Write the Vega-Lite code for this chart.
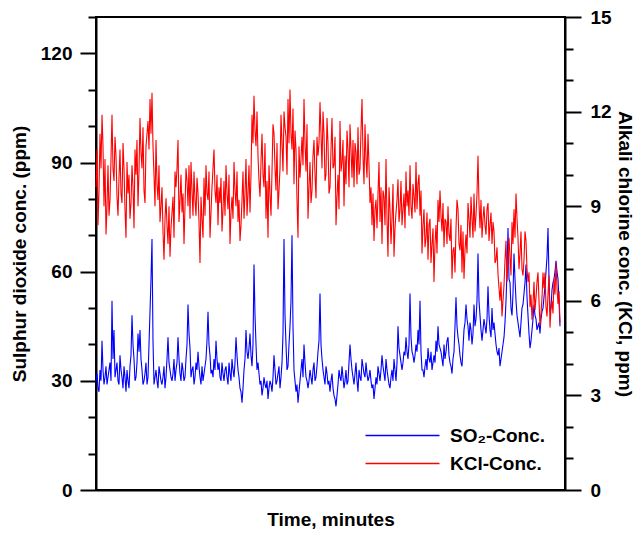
{
"$schema": "https://vega.github.io/schema/vega-lite/v6.json",
"autosize": "none",
"width": 469,
"height": 473,
"padding": {"left": 96, "top": 17, "right": 73, "bottom": 45},
"config": {
  "view": {"stroke": "black", "strokeWidth": 2},
  "font": "Liberation Sans",
  "axis": {"labelFont": "Liberation Sans", "labelFontWeight": "bold", "labelFontSize": 19, "labelColor": "black", "titleFont": "Liberation Sans", "titleFontWeight": "bold", "titleFontSize": 19, "titleColor": "black", "domainColor": "black", "domainWidth": 2, "tickColor": "black", "tickWidth": 2, "grid": false, "labelFlush": false, "labelOverlap": false, "labelBound": false}
},
"data": {"values": [
{"t":0,"s":30,"k":9.6},{"t":1,"s":32,"k":10.8},{"t":2,"s":28,"k":8.4},{"t":3,"s":27,"k":9.5},{"t":4,"s":33,"k":11.3},{"t":5,"s":30,"k":10.2},{"t":6,"s":41,"k":11.9},{"t":7,"s":33,"k":10.9},{"t":8,"s":29,"k":9.0},{"t":9,"s":31,"k":10.5},
{"t":10,"s":34,"k":8.1},{"t":11,"s":29,"k":9.0},{"t":12,"s":31,"k":10.3},{"t":13,"s":33,"k":8.7},{"t":14,"s":35,"k":9.2},{"t":15,"s":30,"k":10.5},{"t":16,"s":52,"k":11.9},{"t":17,"s":36,"k":10.2},{"t":18,"s":44,"k":9.8},{"t":19,"s":31,"k":11.2},
{"t":20,"s":33,"k":10.6},{"t":21,"s":35,"k":9.3},{"t":22,"s":30,"k":8.7},{"t":23,"s":29,"k":9.9},{"t":24,"s":37,"k":10.8},{"t":25,"s":33,"k":9.4},{"t":26,"s":31,"k":9.1},{"t":27,"s":28,"k":11.0},{"t":28,"s":34,"k":10.2},{"t":29,"s":31,"k":8.9},
{"t":30,"s":27,"k":8.0},{"t":31,"s":33,"k":10.4},{"t":32,"s":30,"k":9.4},{"t":33,"s":28,"k":10.0},{"t":34,"s":34,"k":8.6},{"t":35,"s":37,"k":9.1},{"t":36,"s":48,"k":10.3},{"t":37,"s":40,"k":9.6},{"t":38,"s":36,"k":8.3},{"t":39,"s":30,"k":10.8},
{"t":40,"s":31,"k":10.0},{"t":41,"s":35,"k":11.1},{"t":42,"s":43,"k":9.0},{"t":43,"s":38,"k":10.1},{"t":44,"s":44,"k":11.8},{"t":45,"s":36,"k":10.7},{"t":46,"s":33,"k":10.2},{"t":47,"s":29,"k":11.5},{"t":48,"s":30,"k":9.5},{"t":49,"s":32,"k":9.1},
{"t":50,"s":35,"k":10.9},{"t":51,"s":29,"k":11.3},{"t":52,"s":31,"k":11.7},{"t":53,"s":40,"k":10.8},{"t":54,"s":49,"k":12.4},{"t":55,"s":58,"k":11.3},{"t":56,"s":69,"k":12.6},{"t":57,"s":41,"k":10.9},{"t":58,"s":29,"k":10.0},{"t":59,"s":31,"k":9.0},
{"t":60,"s":33,"k":11.1},{"t":61,"s":30,"k":9.7},{"t":62,"s":28,"k":9.2},{"t":63,"s":34,"k":10.3},{"t":64,"s":32,"k":8.5},{"t":65,"s":30,"k":9.0},{"t":66,"s":29,"k":9.6},{"t":67,"s":31,"k":8.2},{"t":68,"s":34,"k":7.3},{"t":69,"s":28,"k":8.6},
{"t":70,"s":31,"k":9.25},{"t":71,"s":36,"k":8.4},{"t":72,"s":42,"k":7.8},{"t":73,"s":35,"k":9.0},{"t":74,"s":33,"k":7.4},{"t":75,"s":31,"k":8.3},{"t":76,"s":30,"k":8.8},{"t":77,"s":32,"k":9.3},{"t":78,"s":36,"k":8.0},{"t":79,"s":30,"k":10.1},
{"t":80,"s":33,"k":9.6},{"t":81,"s":35,"k":10.2},{"t":82,"s":42,"k":11.1},{"t":83,"s":36,"k":8.5},{"t":84,"s":32,"k":9.2},{"t":85,"s":30,"k":10.0},{"t":86,"s":35,"k":8.8},{"t":87,"s":33,"k":9.4},{"t":88,"s":30,"k":7.8},{"t":89,"s":31,"k":9.0},
{"t":90,"s":36,"k":10.2},{"t":91,"s":40,"k":9.8},{"t":92,"s":51,"k":9.0},{"t":93,"s":43,"k":10.3},{"t":94,"s":39,"k":8.6},{"t":95,"s":31,"k":10.4},{"t":96,"s":33,"k":9.5},{"t":97,"s":34,"k":8.7},{"t":98,"s":29,"k":10.1},{"t":99,"s":31,"k":9.2},
{"t":100,"s":35,"k":8.7},{"t":101,"s":33,"k":9.9},{"t":102,"s":38,"k":9.4},{"t":103,"s":34,"k":8.5},{"t":104,"s":31,"k":7.2},{"t":105,"s":29,"k":9.3},{"t":106,"s":34,"k":8.6},{"t":107,"s":30,"k":8.0},{"t":108,"s":32,"k":9.9},{"t":109,"s":34,"k":8.7},
{"t":110,"s":36,"k":10.3},{"t":111,"s":41,"k":9.4},{"t":112,"s":49,"k":9.2},{"t":113,"s":40,"k":10.1},{"t":114,"s":37,"k":8.0},{"t":115,"s":32,"k":8.8},{"t":116,"s":33,"k":9.6},{"t":117,"s":31,"k":10.2},{"t":118,"s":36,"k":10.8},{"t":119,"s":33,"k":9.5},
{"t":120,"s":41,"k":9.1},{"t":121,"s":36,"k":10.0},{"t":122,"s":33,"k":8.4},{"t":123,"s":35,"k":9.6},{"t":124,"s":31,"k":9.1},{"t":125,"s":30,"k":9.9},{"t":126,"s":35,"k":8.2},{"t":127,"s":32,"k":8.9},{"t":128,"s":30,"k":9.8},{"t":129,"s":33,"k":8.7},
{"t":130,"s":34,"k":10.3},{"t":131,"s":31,"k":9.4},{"t":132,"s":29,"k":8.9},{"t":133,"s":35,"k":10.0},{"t":134,"s":32,"k":7.8},{"t":135,"s":30,"k":8.8},{"t":136,"s":36,"k":9.3},{"t":137,"s":33,"k":8.6},{"t":138,"s":31,"k":10.4},{"t":139,"s":35,"k":9.5},
{"t":140,"s":42,"k":9.0},{"t":141,"s":37,"k":10.1},{"t":142,"s":33,"k":8.5},{"t":143,"s":31,"k":9.2},{"t":144,"s":28,"k":7.9},{"t":145,"s":27,"k":8.4},{"t":146,"s":24,"k":9.2},{"t":147,"s":28,"k":10.1},{"t":148,"s":33,"k":8.6},{"t":149,"s":36,"k":9.4},
{"t":150,"s":44,"k":10.5},{"t":151,"s":38,"k":8.7},{"t":152,"s":36,"k":9.4},{"t":153,"s":39,"k":10.3},{"t":154,"s":43,"k":8.8},{"t":155,"s":37,"k":10.0},{"t":156,"s":34,"k":11.9},{"t":157,"s":40,"k":11.0},{"t":158,"s":62,"k":12.5},{"t":159,"s":48,"k":11.4},
{"t":160,"s":40,"k":10.9},{"t":161,"s":33,"k":12.0},{"t":162,"s":35,"k":10.6},{"t":163,"s":32,"k":9.8},{"t":164,"s":29,"k":9.3},{"t":165,"s":30,"k":10.4},{"t":166,"s":26,"k":11.3},{"t":167,"s":28,"k":10.0},{"t":168,"s":31,"k":9.6},{"t":169,"s":29,"k":11.0},
{"t":170,"s":28,"k":8.6},{"t":171,"s":30,"k":9.8},{"t":172,"s":25,"k":8.0},{"t":173,"s":28,"k":10.3},{"t":174,"s":30,"k":9.4},{"t":175,"s":29,"k":8.7},{"t":176,"s":27,"k":10.1},{"t":177,"s":31,"k":11.6},{"t":178,"s":37,"k":11.3},{"t":179,"s":33,"k":10.2},
{"t":180,"s":29,"k":9.5},{"t":181,"s":30,"k":11.0},{"t":182,"s":32,"k":8.9},{"t":183,"s":34,"k":9.5},{"t":184,"s":28,"k":10.2},{"t":185,"s":31,"k":11.9},{"t":186,"s":35,"k":11.0},{"t":187,"s":43,"k":10.1},{"t":188,"s":69,"k":12.0},{"t":189,"s":48,"k":11.5},
{"t":190,"s":40,"k":11.2},{"t":191,"s":33,"k":10.0},{"t":192,"s":34,"k":12.4},{"t":193,"s":40,"k":11.0},{"t":194,"s":45,"k":12.7},{"t":195,"s":52,"k":11.3},{"t":196,"s":70,"k":10.8},{"t":197,"s":45,"k":12.1},{"t":198,"s":33,"k":9.7},{"t":199,"s":30,"k":11.4},
{"t":200,"s":27,"k":10.8},{"t":201,"s":29,"k":9.2},{"t":202,"s":24,"k":8.0},{"t":203,"s":27,"k":10.9},{"t":204,"s":30,"k":9.9},{"t":205,"s":33,"k":10.5},{"t":206,"s":36,"k":11.2},{"t":207,"s":31,"k":10.3},{"t":208,"s":40,"k":12.4},{"t":209,"s":35,"k":11.0},
{"t":210,"s":31,"k":10.1},{"t":211,"s":30,"k":11.6},{"t":212,"s":28,"k":8.6},{"t":213,"s":30,"k":9.6},{"t":214,"s":33,"k":10.4},{"t":215,"s":31,"k":9.1},{"t":216,"s":29,"k":9.5},{"t":217,"s":33,"k":10.6},{"t":218,"s":35,"k":11.1},{"t":219,"s":30,"k":10.0},
{"t":220,"s":31,"k":9.25},{"t":221,"s":34,"k":11.2},{"t":222,"s":38,"k":10.6},{"t":223,"s":41,"k":11.0},{"t":224,"s":54,"k":12.3},{"t":225,"s":40,"k":11.3},{"t":226,"s":36,"k":10.2},{"t":227,"s":33,"k":12.0},{"t":228,"s":31,"k":11.3},{"t":229,"s":29,"k":9.8},
{"t":230,"s":34,"k":10.0},{"t":231,"s":32,"k":11.8},{"t":232,"s":29,"k":11.0},{"t":233,"s":30,"k":9.4},{"t":234,"s":27,"k":9.6},{"t":235,"s":30,"k":10.8},{"t":236,"s":32,"k":11.8},{"t":237,"s":28,"k":10.2},{"t":238,"s":26,"k":10.3},{"t":239,"s":25,"k":11.2},
{"t":240,"s":23,"k":8.4},{"t":241,"s":26,"k":9.3},{"t":242,"s":29,"k":10.0},{"t":243,"s":33,"k":8.9},{"t":244,"s":31,"k":11.7},{"t":245,"s":30,"k":10.1},{"t":246,"s":34,"k":10.4},{"t":247,"s":31,"k":11.1},{"t":248,"s":28,"k":9.0},{"t":249,"s":30,"k":10.6},
{"t":250,"s":33,"k":9.7},{"t":251,"s":29,"k":11.4},{"t":252,"s":30,"k":10.8},{"t":253,"s":35,"k":9.6},{"t":254,"s":40,"k":11.6},{"t":255,"s":36,"k":10.8},{"t":256,"s":33,"k":9.9},{"t":257,"s":31,"k":11.1},{"t":258,"s":29,"k":9.6},{"t":259,"s":32,"k":11.0},
{"t":260,"s":35,"k":10.7},{"t":261,"s":30,"k":9.7},{"t":262,"s":27,"k":11.5},{"t":263,"s":33,"k":10.0},{"t":264,"s":31,"k":10.2},{"t":265,"s":30,"k":11.4},{"t":266,"s":36,"k":12.4},{"t":267,"s":34,"k":10.6},{"t":268,"s":32,"k":9.7},{"t":269,"s":31,"k":11.6},
{"t":270,"s":35,"k":10.5},{"t":271,"s":32,"k":9.9},{"t":272,"s":30,"k":11.3},{"t":273,"s":31,"k":10.3},{"t":274,"s":33,"k":9.1},{"t":275,"s":30,"k":9.6},{"t":276,"s":28,"k":8.4},{"t":277,"s":29,"k":9.4},{"t":278,"s":25,"k":7.9},{"t":279,"s":28,"k":8.9},
{"t":280,"s":31,"k":9.2},{"t":281,"s":29,"k":8.3},{"t":282,"s":34,"k":9.4},{"t":283,"s":32,"k":10.4},{"t":284,"s":30,"k":8.5},{"t":285,"s":33,"k":9.6},{"t":286,"s":37,"k":7.8},{"t":287,"s":34,"k":9.5},{"t":288,"s":32,"k":9.3},{"t":289,"s":30,"k":8.4},
{"t":290,"s":36,"k":10.5},{"t":291,"s":33,"k":8.6},{"t":292,"s":31,"k":7.4},{"t":293,"s":29,"k":9.6},{"t":294,"s":28,"k":8.9},{"t":295,"s":31,"k":7.8},{"t":296,"s":33,"k":8.6},{"t":297,"s":30,"k":9.7},{"t":298,"s":36,"k":7.4},{"t":299,"s":33,"k":8.3},
{"t":300,"s":30,"k":8.8},{"t":301,"s":35,"k":9.2},{"t":302,"s":45,"k":9.85},{"t":303,"s":39,"k":8.5},{"t":304,"s":37,"k":8.9},{"t":305,"s":35,"k":9.8},{"t":306,"s":33,"k":8.4},{"t":307,"s":35,"k":8.9},{"t":308,"s":38,"k":9.4},{"t":309,"s":37,"k":8.3},
{"t":310,"s":42,"k":10.1},{"t":311,"s":38,"k":9.0},{"t":312,"s":36,"k":9.5},{"t":313,"s":40,"k":8.7},{"t":314,"s":54,"k":10.3},{"t":315,"s":42,"k":9.0},{"t":316,"s":38,"k":8.6},{"t":317,"s":37,"k":9.7},{"t":318,"s":35,"k":9.3},{"t":319,"s":37,"k":8.8},
{"t":320,"s":40,"k":10.4},{"t":321,"s":38,"k":8.9},{"t":322,"s":44,"k":9.7},{"t":323,"s":40,"k":10.0},{"t":324,"s":52,"k":8.7},{"t":325,"s":38,"k":9.5},{"t":326,"s":33,"k":7.5},{"t":327,"s":33,"k":8.4},{"t":328,"s":31,"k":8.9},{"t":329,"s":34,"k":7.7},
{"t":330,"s":36,"k":8.0},{"t":331,"s":33,"k":8.8},{"t":332,"s":39,"k":7.3},{"t":333,"s":36,"k":8.4},{"t":334,"s":35,"k":8.6},{"t":335,"s":38,"k":7.2},{"t":336,"s":33,"k":7.8},{"t":337,"s":35,"k":8.3},{"t":338,"s":37,"k":6.6},{"t":339,"s":35,"k":7.8},
{"t":340,"s":41,"k":8.4},{"t":341,"s":38,"k":7.5},{"t":342,"s":45,"k":9.2},{"t":343,"s":40,"k":8.5},{"t":344,"s":39,"k":9.5},{"t":345,"s":38,"k":8.7},{"t":346,"s":36,"k":8.2},{"t":347,"s":34,"k":9.1},{"t":348,"s":40,"k":7.7},{"t":349,"s":36,"k":8.6},
{"t":350,"s":38,"k":8.5},{"t":351,"s":41,"k":7.8},{"t":352,"s":42,"k":9.0},{"t":353,"s":37,"k":8.1},{"t":354,"s":35,"k":7.9},{"t":355,"s":34,"k":8.6},{"t":356,"s":32,"k":6.7},{"t":357,"s":36,"k":7.6},{"t":358,"s":38,"k":7.7},{"t":359,"s":45,"k":6.9},
{"t":360,"s":53,"k":8.3},{"t":361,"s":45,"k":9.2},{"t":362,"s":42,"k":8.9},{"t":363,"s":40,"k":7.8},{"t":364,"s":37,"k":7.6},{"t":365,"s":35,"k":8.4},{"t":366,"s":34,"k":6.9},{"t":367,"s":39,"k":8.2},{"t":368,"s":44,"k":6.7},{"t":369,"s":46,"k":7.6},
{"t":370,"s":51,"k":8.1},{"t":371,"s":47,"k":7.5},{"t":372,"s":45,"k":9.1},{"t":373,"s":41,"k":8.6},{"t":374,"s":46,"k":8.0},{"t":375,"s":44,"k":9.3},{"t":376,"s":40,"k":8.6},{"t":377,"s":43,"k":8.0},{"t":378,"s":51,"k":9.4},{"t":379,"s":45,"k":8.2},
{"t":380,"s":47,"k":8.7},{"t":381,"s":52,"k":9.4},{"t":382,"s":65,"k":10.6},{"t":383,"s":52,"k":9.1},{"t":384,"s":48,"k":8.3},{"t":385,"s":44,"k":9.2},{"t":386,"s":41,"k":8.0},{"t":387,"s":44,"k":8.6},{"t":388,"s":47,"k":9.0},{"t":389,"s":45,"k":8.4},
{"t":390,"s":43,"k":8.1},{"t":391,"s":47,"k":8.9},{"t":392,"s":56,"k":9.1},{"t":393,"s":48,"k":7.9},{"t":394,"s":44,"k":8.4},{"t":395,"s":42,"k":8.8},{"t":396,"s":50,"k":7.8},{"t":397,"s":44,"k":8.5},{"t":398,"s":46,"k":8.2},{"t":399,"s":43,"k":7.2},
{"t":400,"s":40,"k":7.3},{"t":401,"s":38,"k":7.7},{"t":402,"s":37,"k":6.85},{"t":403,"s":39,"k":6.4},{"t":404,"s":34,"k":6.0},{"t":405,"s":36,"k":6.6},{"t":406,"s":38,"k":5.5},{"t":407,"s":40,"k":6.0},{"t":408,"s":42,"k":6.5},{"t":409,"s":46,"k":7.3},
{"t":410,"s":52,"k":7.9},{"t":411,"s":60,"k":6.6},{"t":412,"s":72,"k":7.2},{"t":413,"s":58,"k":8.0},{"t":414,"s":57,"k":7.4},{"t":415,"s":50,"k":6.8},{"t":416,"s":48,"k":8.5},{"t":417,"s":54,"k":7.8},{"t":418,"s":65,"k":8.9},{"t":419,"s":58,"k":8.0},
{"t":420,"s":52,"k":9.4},{"t":421,"s":48,"k":8.6},{"t":422,"s":46,"k":8.0},{"t":423,"s":44,"k":7.0},{"t":424,"s":42,"k":7.5},{"t":425,"s":46,"k":8.2},{"t":426,"s":50,"k":7.0},{"t":427,"s":51,"k":6.8},{"t":428,"s":54,"k":7.3},{"t":429,"s":57,"k":8.2},
{"t":430,"s":62,"k":7.9},{"t":431,"s":53,"k":7.0},{"t":432,"s":48,"k":6.6},{"t":433,"s":43,"k":6.9},{"t":434,"s":39,"k":5.8},{"t":435,"s":41,"k":6.2},{"t":436,"s":44,"k":5.4},{"t":437,"s":47,"k":5.9},{"t":438,"s":51,"k":6.6},{"t":439,"s":48,"k":5.7},
{"t":440,"s":47,"k":6.1},{"t":441,"s":44,"k":6.6},{"t":442,"s":45,"k":6.9},{"t":443,"s":46,"k":6.0},{"t":444,"s":43,"k":5.2},{"t":445,"s":47,"k":5.6},{"t":446,"s":49,"k":6.1},{"t":447,"s":50,"k":6.9},{"t":448,"s":53,"k":6.4},{"t":449,"s":56,"k":6.9},
{"t":450,"s":60,"k":5.8},{"t":451,"s":64,"k":5.5},{"t":452,"s":72,"k":6.2},{"t":453,"s":58,"k":6.8},{"t":454,"s":49,"k":5.15},{"t":455,"s":50,"k":5.8},{"t":456,"s":55,"k":6.0},{"t":457,"s":57,"k":5.6},{"t":458,"s":58,"k":6.7},{"t":459,"s":60,"k":6.2},
{"t":460,"s":63,"k":7.2},{"t":461,"s":60,"k":6.4},{"t":462,"s":58,"k":5.9},{"t":463,"s":52,"k":6.3},{"t":464,"s":45,"k":5.3}
]},
"encoding": {
  "x": {"field": "t", "type": "quantitative", "scale": {"domain": [0, 469], "nice": false, "zero": false},
        "axis": {"title": "Time, minutes", "labels": false, "ticks": false, "titlePadding": 20}}
},
"layer": [
  {"mark": {"type": "line", "strokeWidth": 1.1},
   "encoding": {
     "y": {"field": "s", "type": "quantitative", "scale": {"domain": [0, 130], "nice": false},
           "axis": {"orient": "left", "title": "Sulphur dioxide conc. (ppm)", "values": [0,10,20,30,40,50,60,70,80,90,100,110,120,130],
                    "labelExpr": "datum.value % 30 === 0 ? datum.label : ''",
                    "tickSize": {"condition": {"test": "datum.value % 30 === 0", "value": 16}, "value": 8},
                    "labelPadding": 8, "titlePadding": 11}},
     "color": {"datum": "SO₂-Conc.", "type": "nominal",
               "scale": {"domain": ["SO₂-Conc.", "KCl-Conc."], "range": ["#0000ff", "#ff0000"]},
               "legend": {"title": null, "orient": "none", "legendX": 297, "legendY": 409, "padding": 0,
                          "symbolType": "M-5,0H5", "symbolSize": 219, "symbolStrokeWidth": 1.5,
                          "labelOffset": 38, "labelFont": "Liberation Sans", "labelFontSize": 19, "labelFontWeight": "bold", "labelColor": "black", "rowPadding": 8}}
   }},
  {"mark": {"type": "line", "strokeWidth": 1.1},
   "encoding": {
     "y": {"field": "k", "type": "quantitative", "scale": {"domain": [0, 15], "nice": false},
           "axis": {"orient": "right", "title": "Alkali chlorine conc. (KCl, ppm)", "values": [0,1,2,3,4,5,6,7,8,9,10,11,12,13,14,15],
                    "labelExpr": "datum.value % 3 === 0 ? datum.label : ''",
                    "tickSize": {"condition": {"test": "datum.value % 3 === 0", "value": 16}, "value": 8},
                    "labelPadding": 9, "titlePadding": 3}},
     "color": {"datum": "KCl-Conc.", "type": "nominal"}
   }}
],
"resolve": {"scale": {"y": "independent"}}
}
